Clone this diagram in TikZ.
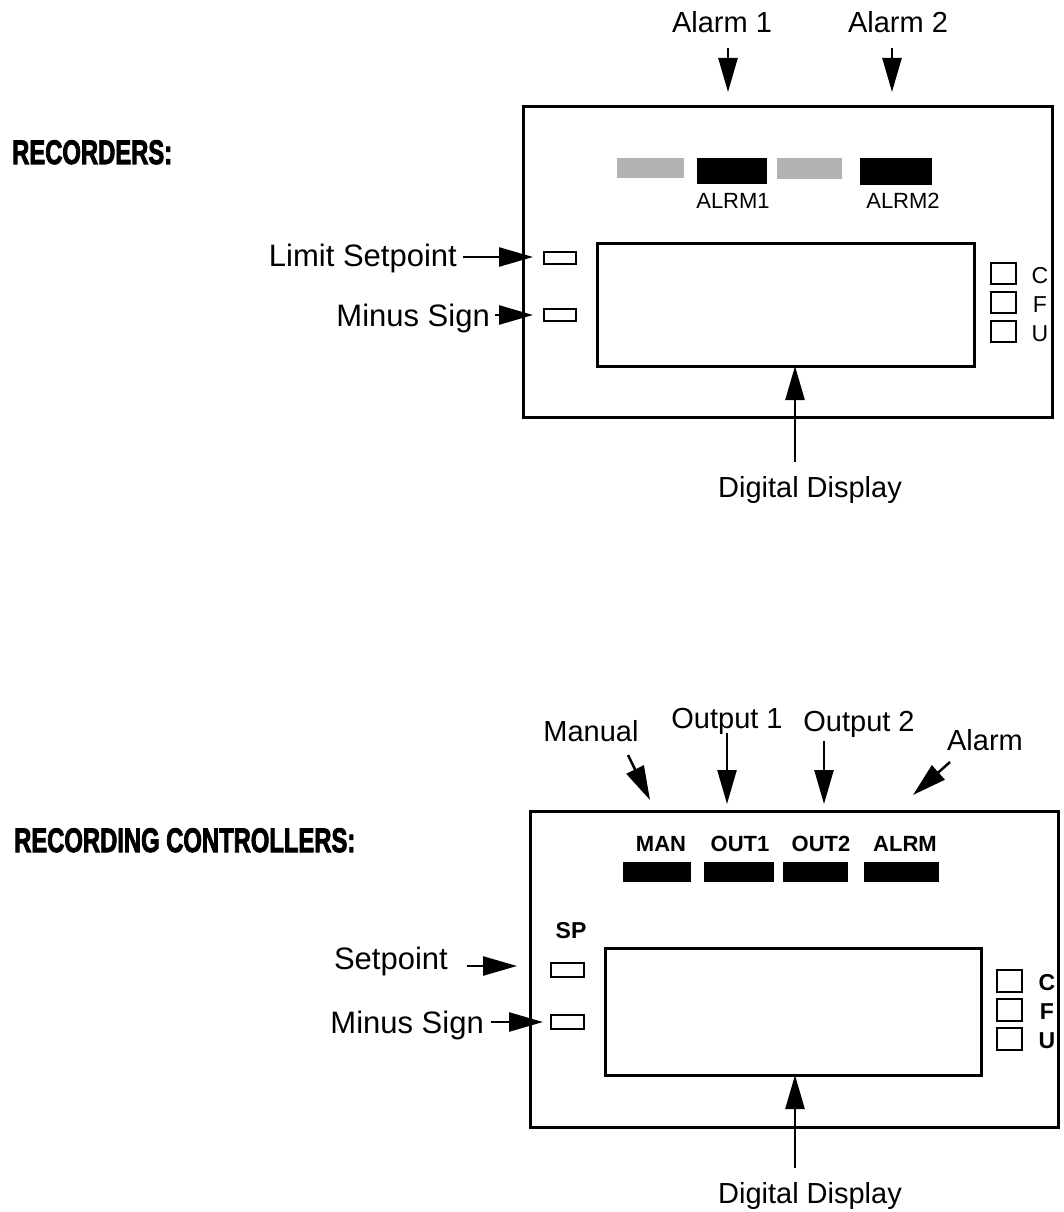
\documentclass[tikz,border=0pt]{standalone}
\usepackage{fontspec}
\setmainfont{Liberation Sans}
\newfontfamily\headfont{Liberation Sans Bold}[FakeBold=3]
\usepackage{graphicx}
\usetikzlibrary{arrows.meta}
\newcommand{\callout}{\fontsize{29}{34}\selectfont}
\newcommand{\sidefont}{\fontsize{31}{36}\selectfont}
\newcommand{\ledfont}{\fontsize{22}{26}\selectfont}
\newcommand{\heading}[1]{{\headfont\fontsize{34}{38}\selectfont\scalebox{0.70}[1]{#1}}}

\begin{document}
\begin{tikzpicture}[x=1pt,y=-1pt,
  frame/.style={draw,line width=3pt},
  lamp/.style={draw,line width=2pt},
  unitbox/.style={draw,line width=2.5pt},
  lit/.style={fill=black},
  dim/.style={fill=black!30},
  txt/.style={inner sep=0pt,anchor=base},
  pointer/.style={line width=2.5pt,-{Triangle[length=34pt,width=19pt]}}]
  \useasboundingbox (0,0) rectangle (1064,1212);

  % recorders
  \node[txt,anchor=base west] (rechead) at (12,164) {\heading{RECORDERS:}};
  \draw[frame] (523,107) rectangle (1052,417);
  \draw[frame] (597,243) rectangle (974,366);
  \fill[dim] (617,158) rectangle (684,178);
  \fill[lit] (697,158) rectangle (767,184);
  \fill[dim] (777,158) rectangle (842,179);
  \fill[lit] (860,158) rectangle (932,185);
  \node[txt] (alrmA) at (733,208) {\ledfont ALRM1};
  \node[txt] (alrmB) at (903,208) {\ledfont ALRM2};
  \draw[lamp] (544,252) rectangle (576,264);
  \draw[lamp] (544,309) rectangle (576,321);
  \foreach \y/\u in {263/C,292/F,321/U}{
    \draw[unitbox] (991,\y) rectangle ++(25,21);
    \node[txt] at (1040,\y+20) {\fontsize{23}{26}\selectfont\u};
  }
  \node[txt] (alarmA) at (722,33) {\callout Alarm 1};
  \node[txt] (alarmB) at (898,33) {\callout Alarm 2};
  \node[txt,anchor=base east] (limsp) at (457,266) {\sidefont Limit Setpoint};
  \node[txt,anchor=base east] (minusA) at (490,326) {\sidefont Minus Sign};
  \node[txt] (dispA) at (810,497) {\callout Digital Display};
  \coordinate (a1) at (728,48);  \coordinate (a1e) at (728,92);
  \coordinate (a2) at (892,48);  \coordinate (a2e) at (892,92);
  \coordinate (ls) at (463,257); \coordinate (lse) at (533,257);
  \coordinate (ms) at (495,315); \coordinate (mse) at (533,315);
  \coordinate (dd) at (795,462); \coordinate (dde) at (795,366);
  \draw[pointer] (a1) -- (a1e);
  \draw[pointer] (a2) -- (a2e);
  \draw[pointer] (ls) -- (lse);
  \draw[pointer] (ms) -- (mse);
  \draw[pointer] (dd) -- (dde);

  % recording controllers
  \node[txt,anchor=base west] (ctlhead) at (14,852) {\heading{RECORDING CONTROLLERS:}};
  \draw[frame] (530,811) rectangle (1058,1127);
  \draw[frame] (605,948) rectangle (981,1075);
  \foreach \xa/\xb/\n/\xc in {623/691/MAN/661,704/774/OUT1/740,783/848/OUT2/821,864/939/ALRM/905}{
    \fill[lit] (\xa,862) rectangle (\xb,882);
    \node[txt] at (\xc,851) {\bfseries\ledfont \n};
  }
  \node[txt] (sp) at (571,938) {\bfseries\fontsize{23}{26}\selectfont SP};
  \draw[lamp] (551,963) rectangle (584,977);
  \draw[lamp] (551,1015) rectangle (584,1029);
  \foreach \y/\u in {970/C,999/F,1028/U}{
    \draw[unitbox] (997,\y) rectangle ++(25,22);
    \node[txt] at (1047,\y+20) {\bfseries\fontsize{23}{26}\selectfont\u};
  }
  \node[txt] (manual) at (591,741) {\callout Manual};
  \node[txt] (outA) at (727,728) {\callout Output 1};
  \node[txt] (outB) at (859,731) {\callout Output 2};
  \node[txt] (alarmC) at (985,750) {\callout Alarm};
  \node[txt,anchor=base east] (setp) at (448,969) {\sidefont Setpoint};
  \node[txt,anchor=base east] (minusB) at (484,1033) {\sidefont Minus Sign};
  \node[txt] (dispB) at (810,1203) {\callout Digital Display};
  \coordinate (mn) at (628,755); \coordinate (mne) at (650,800);
  \coordinate (o1) at (727,733); \coordinate (o1e) at (727,804);
  \coordinate (o2) at (824,741); \coordinate (o2e) at (824,804);
  \coordinate (al) at (950,762); \coordinate (ale) at (913,795);
  \coordinate (st) at (467,966); \coordinate (ste) at (517,966);
  \coordinate (mb) at (491,1022); \coordinate (mbe) at (543,1022);
  \coordinate (db) at (795,1168); \coordinate (dbe) at (795,1075);
  \draw[pointer] (mn) -- (mne);
  \draw[pointer] (o1) -- (o1e);
  \draw[pointer] (o2) -- (o2e);
  \draw[pointer] (al) -- (ale);
  \draw[pointer] (st) -- (ste);
  \draw[pointer] (mb) -- (mbe);
  \draw[pointer] (db) -- (dbe);
\end{tikzpicture}
\end{document}
